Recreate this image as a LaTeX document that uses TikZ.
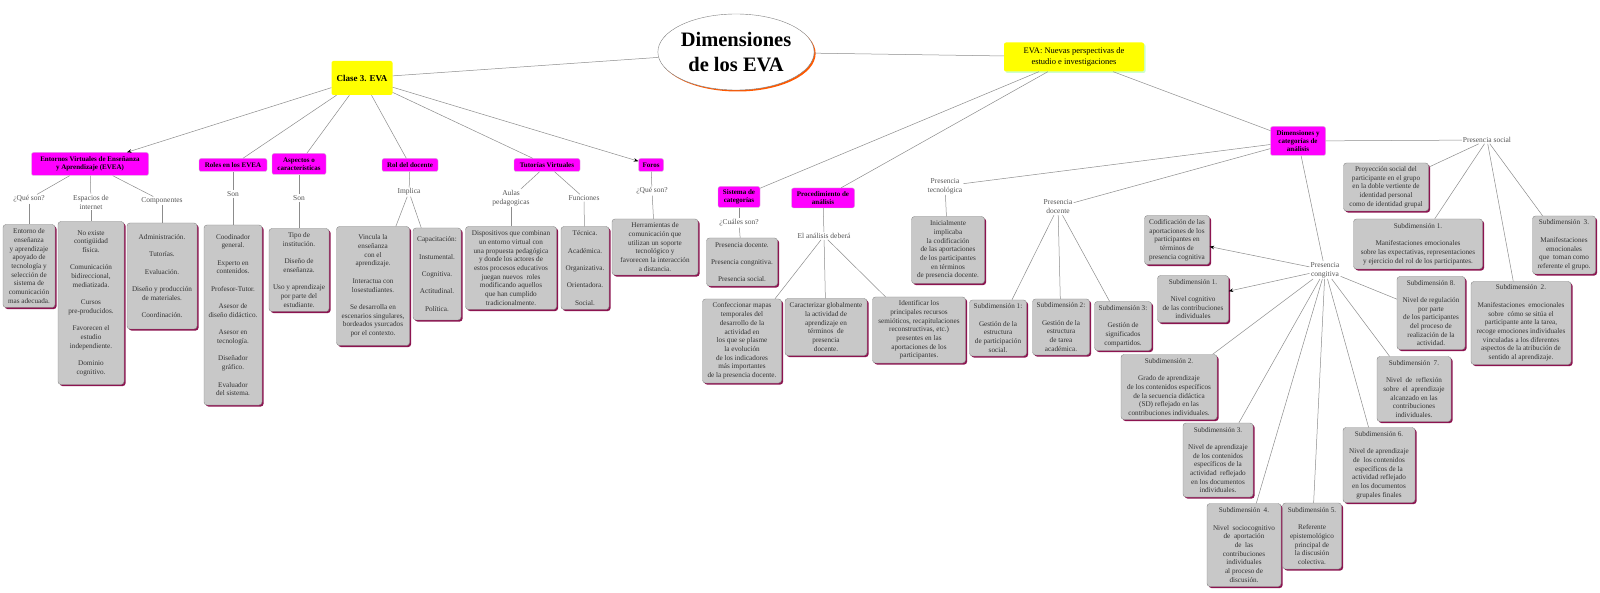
\documentclass[tikz,border=0pt]{standalone}
\usepackage{fontspec}
\setmainfont{Liberation Serif}
\usetikzlibrary{arrows,arrows.meta,shapes.geometric,shadows}
\definecolor{boxgray}{HTML}{C8C8C8}
\definecolor{boxline}{HTML}{8A8A8A}
\definecolor{shadowred}{HTML}{8C1450}
\definecolor{linkgray}{HTML}{8C8C8C}
\definecolor{textgray}{HTML}{333333}
\definecolor{labelgray}{HTML}{555555}
\definecolor{conceptmag}{HTML}{FF00FF}
\definecolor{titleyellow}{HTML}{FFFF00}
\newcommand{\blankln}{\\[8.7pt]}

\begin{document}
\begin{tikzpicture}[x=1pt,y=-1pt,>=stealth',
    every edge/.style={draw=linkgray,line width=0.5pt},
    arrowlink/.style={-{Stealth[black,length=4.5pt,width=3.5pt]}},
    concept/.style={draw=gray!40,fill=conceptmag,rounded corners=2pt,align=center,
      inner sep=1.5pt,font=\fontsize{7}{8}\selectfont\bfseries},
    mainbox/.style={fill=titleyellow,rounded corners=2pt,align=center,inner sep=2pt},
    textbox/.style={draw=boxline,fill=boxgray,rounded corners=3pt,align=center,
      inner sep=2pt,text=textgray,font=\fontsize{7.2}{8.7}\selectfont,
      drop shadow={shadow xshift=1.6pt,shadow yshift=-1.6pt,fill=shadowred,opacity=1}},
    link/.style={text=labelgray,align=center,inner sep=1pt,
      font=\fontsize{7.5}{9}\selectfont},
    sz/.style 2 args={minimum width=#1pt,minimum height=#2pt}]
  \path[use as bounding box,fill=white] (0,0) rectangle (1600,593);

  % centre and the two main branches
  \node[ellipse,draw=gray,fill=white,sz={142}{76},inner sep=0pt,align=center,
    font=\fontsize{20.5}{25}\selectfont\bfseries,
    drop shadow={shadow xshift=1.5pt,shadow yshift=-1.5pt,fill=orange!70!red,opacity=1}]
    (title) at (736,52) {Dimensiones\\de los EVA};
  \node[mainbox,sz={61}{34},font=\fontsize{9}{11}\selectfont\bfseries] (clase) at (362,78) {Clase 3. EVA};
  \node[mainbox,sz={140}{29},font=\fontsize{8.5}{11.5}\selectfont,
    drop shadow={shadow xshift=1.5pt,shadow yshift=-1.5pt,fill=green!20,opacity=1}]
    (eva) at (1074,57) {EVA: Nuevas perspectivas de\\estudio e investigaciones};

  % Clase 3
  \node[concept,sz={117}{23}] (evea) at (90,164) {Entornos Virtuales de Enseñanza\\y Aprendizaje (EVEA)};
  \node[concept,sz={68}{13}] (roles) at (233,165) {Roles en los EVEA};
  \node[concept,sz={54}{21}] (aspectos) at (299,164) {Aspectos o\\características};
  \node[concept,sz={56}{13}] (rol) at (410,165) {Rol del docente};
  \node[concept,sz={66}{13}] (tutorias) at (547,165) {Tutorías Virtuales};
  \node[concept,sz={25}{13}] (foros) at (651,165) {Foros};

  \node[link] (lqueson) at (29,199) {¿Qué son?};
  \node[link] (lespacios) at (91,202) {Espacios de\\internet};
  \node[link] (lcomp) at (162,201) {Componentes};
  \node[link] (lson1) at (233,194) {Son};
  \node[link] (lson2) at (299,198) {Son};
  \node[link] (limplica) at (409,192) {Implica};
  \node[link] (laulas) at (511,198) {Aulas\\pedagogicas};
  \node[link] (lfunc) at (584,198) {Funciones};
  \node[link] (lforos) at (652,191) {¿Qué son?};

  \node[textbox,sz={52}{83}] (bentorno) at (29,266) {Entorno de\\enseñanza\\y aprendizaje\\apoyado de\\tecnología y\\selección de\\sistema de\\comunicación\\mas adecuada.};
  \node[textbox,sz={66}{163}] (bespacios) at (91,303) {No existe\\contigüidad\\física.\blankln Comunicación\\bidireccional,\\mediatizada.\blankln Cursos\\pre-producidos.\blankln Favorecen el\\estudio\\independiente.\blankln Dominio\\cognitivo.};
  \node[textbox,sz={70}{106}] (bcomp) at (162,276) {Administración.\blankln Tutorías.\blankln Evaluación.\blankln Diseño y producción\\de materiales.\blankln Coordinación.};
  \node[textbox,sz={58}{180}] (broles) at (233,315) {Coodinador\\general.\blankln Experto en\\contenidos.\blankln Profesor-Tutor.\blankln Asesor de\\diseño didáctico.\blankln Asesor en\\tecnología.\blankln Diseñador\\gráfico.\blankln Evaluador\\del sistema.};
  \node[textbox,sz={60}{83}] (baspectos) at (299,270) {Tipo de\\institución.\blankln Diseño de\\enseñanza.\blankln Uso y aprendizaje\\por parte del\\estudiante.};
  \node[textbox,sz={73}{119}] (bvincula) at (373,286) {Vincula la\\enseñanza\\con el\\aprendizaje.\blankln Interactua con\\losestudiantes.\blankln Se desarrolla en\\escenarios singulares,\\bordeados ysurcados\\por el contexto.};
  \node[textbox,sz={48}{92}] (bcapac) at (437,274) {Capacitación:\blankln Instumental.\blankln Cognitiva.\blankln Actitudinal.\blankln Política.};
  \node[textbox,sz={91}{83}] (bdisp) at (511,268) {Dispositivos que combinan\\un entorno virtual con\\una propuesta pedagógica\\y donde los actores de\\estos procesos educativos\\juegan nuevos~ roles\\modificando aquellos\\que han cumplido\\tradicionalmente.};
  \node[textbox,sz={48}{83}] (bfunc) at (585,268) {Técnica.\blankln Académica.\blankln Organizativa.\blankln Orientadora.\blankln Social.};
  \node[textbox,sz={86}{56}] (bforos) at (655,247) {Herramientas de\\comunicación que\\utilizan un soporte\\tecnológico y\\favorecen la interacción\\a distancia.};

  % EVA: nuevas perspectivas
  \node[concept,sz={42}{21}] (sistema) at (739,197) {Sistema de\\categorías};
  \node[concept,sz={63}{20}] (proced) at (823,198) {Procedimiento de\\análisis};
  \node[concept,sz={55}{29}] (dimens) at (1298,141) {Dimensiones y\\categorías de\\análisis};

  \node[link] (lcuales) at (739,223) {¿Cuáles son?};
  \node[link] (lanalisis) at (824,236) {El análisis deberá};
  \node[link] (ltecno) at (945,186) {Presencia\\tecnológica};
  \node[link] (ldocente) at (1058,207) {Presencia\\docente};
  \node[link] (lcogn) at (1325,270) {Presencia\\congitiva};
  \node[link] (lsocial) at (1487,140) {Presencia social};

  \node[textbox,sz={71}{48}] (bpresen) at (742,262) {Presencia docente.\blankln Presencia congnitiva.\blankln Presencia social.};
  \node[textbox,sz={79}{84}] (bconfec) at (742,341) {Confeccionar mapas\\temporales del\\desarrollo de la\\actividad en\\los que se plasme\\la evolución\\de los indicadores\\más importantes\\de la presencia docente.};
  \node[textbox,sz={82}{57}] (bcaract) at (826,327) {Caracterizar globalmente\\la actividad de\\aprendizaje en\\términos~ de\\presencia\\docente.};
  \node[textbox,sz={93}{66}] (bident) at (919,330) {Identificar los\\principales recursos\\semióticos, recapitulaciones\\reconstructivas, etc.)\\presentes en las\\aportaciones de los\\participantes.};
  \node[textbox,sz={73}{67}] (binicial) at (948,250) {Inicialmente\\implicaba\\la codificación\\de las aportaciones\\de los participantes\\en términos\\de presencia docente.};
  \node[textbox,sz={57}{56}] (bsd1) at (998,328) {Subdimensión 1:\blankln Gestión de la\\estructura\\de participación\\social.};
  \node[textbox,sz={57}{56}] (bsd2) at (1061,327) {Subdimensión 2:\blankln Gestión de la\\estructura\\de tarea\\académica.};
  \node[textbox,sz={57}{49}] (bsd3) at (1123,326) {Subdimensión 3:\blankln Gestión de\\significados\\compartidos.};

  \node[textbox,sz={65}{49}] (bcodif) at (1177,240) {Codificación de las\\aportaciones de los\\participantes en\\términos de\\presencia cognitiva};
  \node[textbox,sz={71}{47}] (bc1) at (1193,299) {Subdimensión 1.\blankln Nivel cognitivo\\de las contribuciones\\individuales};
  \node[textbox,sz={96}{65}] (bc2) at (1169,387) {Subdimensión 2.\blankln Grado de aprendizaje\\de los contenidos específicos\\de la secuencia didáctica\\(SD) reflejado en las\\contribuciones individuales.};
  \node[textbox,sz={70}{74}] (bc3) at (1218,460) {Subdimensión 3.\blankln Nivel de aprendizaje\\de los contenidos\\específicos de la\\actividad~ reflejado\\en los documentos\\individuales.};
  \node[textbox,sz={74}{83}] (bc4) at (1244,545) {Subdimensión~ 4.\blankln Nivel~ sociocognitivo\\de~ aportación\\de~ las\\contribuciones\\individuales\\al proceso de\\discusión.};
  \node[textbox,sz={59}{66}] (bc5) at (1312,536) {Subdimensión 5.\blankln Referente\\epistemológico\\principal de\\la discusión\\colectiva.};
  \node[textbox,sz={72}{75}] (bc6) at (1379,465) {Subdimensión 6.\blankln Nivel de aprendizaje\\de~ los contenidos\\específicos de la\\actividad reflejado\\en los documentos\\grupales finales};
  \node[textbox,sz={74}{65}] (bc7) at (1414,389) {Subdimensión~ 7.\blankln Nivel~ de~ reflexión\\sobre~ el~ aprendizaje\\alcanzado en las\\contribuciones\\individuales.};
  \node[textbox,sz={68}{73}] (bc8) at (1431,313) {Subdimensión 8.\blankln Nivel de regulación\\por parte\\de los participantes\\del proceso de\\realización de la\\actividad.};

  \node[textbox,sz={85}{48}] (bproy) at (1386,187) {Proyección social del\\participante en el grupo\\en la doble vertiente de\\identidad personal\\como de identidad grupal};
  \node[textbox,sz={129}{50}] (bs1) at (1418,244) {Subdimensión 1.\blankln Manifestaciones emocionales\\sobre las expectativas, representaciones\\y ejercicio del rol de los participantes.};
  \node[textbox,sz={100}{83}] (bs2) at (1521,323) {Subdimensión~ 2.\blankln Manifestaciones~ emocionales\\sobre~ cómo se sitúa el\\participante ante la tarea,\\recoge emociones individuales\\vinculadas a los diferentes\\aspectos de la atribución de\\sentido al aprendizaje.};
  \node[textbox,sz={63}{58}] (bs3) at (1564,245) {Subdimensión~ 3.\blankln Manifestaciones\\emocionales\\que~ toman como\\referente el grupo.};

  % connectors
  \path (title) edge (clase) edge (eva);
  \path (clase) edge[arrowlink] (evea) edge (roles) edge (aspectos) edge (rol)
    edge (tutorias) edge[arrowlink] (foros);
  \path (evea) edge (lqueson) edge (lespacios) edge (lcomp)
    (lqueson) edge (bentorno)
    (lespacios) edge (bespacios)
    (lcomp) edge (bcomp);
  \path (roles) edge (lson1) (lson1) edge (broles)
    (aspectos) edge (lson2) (lson2) edge (baspectos)
    (rol) edge (limplica) (limplica) edge (bvincula) edge (bcapac)
    (tutorias) edge (laulas) edge (lfunc)
    (laulas) edge (bdisp) (lfunc) edge (bfunc)
    (foros) edge (lforos) (lforos) edge (bforos);

  \path (eva) edge (sistema) edge (proced) edge (dimens);
  \path (sistema) edge (lcuales) (lcuales) edge (bpresen)
    (proced) edge (lanalisis)
    (lanalisis) edge (bconfec) edge (bcaract) edge (bident);
  \path (dimens) edge (ltecno) edge (ldocente) edge (lcogn) edge (lsocial);
  \path (ltecno) edge (binicial)
    (ldocente) edge (bsd1) edge (bsd2) edge (bsd3);
  \path (lcogn) edge[arrowlink] (bcodif) edge[arrowlink] (bc1)
    edge (bc2) edge (bc3) edge (bc4) edge (bc5)
    edge (bc6) edge (bc7) edge (bc8);
  \path (lsocial) edge (bproy) edge (bs1) edge (bs2) edge (bs3);
\end{tikzpicture}
\end{document}
